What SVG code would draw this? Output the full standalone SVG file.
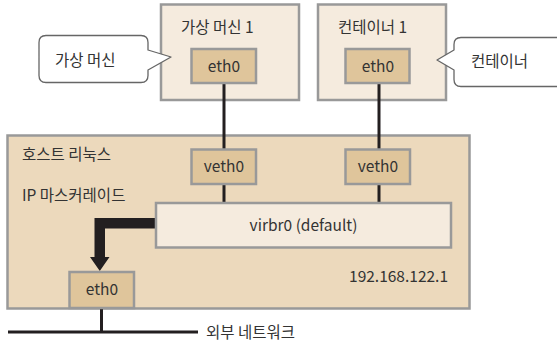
<svg xmlns="http://www.w3.org/2000/svg" width="557" height="341" viewBox="0 0 557 341">
<style>
text{font-family:"Noto Sans CJK KR","Noto Sans",sans-serif;font-size:15.5px;fill:#333}
.c{text-anchor:middle}
.e{text-anchor:end}
.outer{fill:#f5ebde;stroke:#999;stroke-width:2.5}
.host{fill:#ecd9bc;stroke:#999;stroke-width:2.5}
.port{fill:#dfc59b;stroke:#999;stroke-width:2.5}
.br{fill:#f5ebde;stroke:#999;stroke-width:2.5}
.call{fill:#fff;stroke:#666;stroke-width:1.3;stroke-linejoin:round}
.wire{stroke:#231f20;stroke-width:3;fill:none}
</style>
<rect width="557" height="341" fill="#fff"/>
<g id="host">
<rect class="host" x="7.5" y="135.5" width="462" height="173"/>
<text x="22" y="160">호스트 리눅스</text>
<text x="22" y="201">IP 마스커레이드</text>
<text class="e" x="448" y="282">192.168.122.1</text>
</g>
<g id="vm1">
<rect class="outer" x="161" y="4.5" width="138" height="95.5"/>
<text x="181" y="33">가상 머신 1</text>
</g>
<g id="ct1">
<rect class="outer" x="318" y="4.5" width="128" height="95.5"/>
<text x="338" y="33">컨테이너 1</text>
</g>
<g id="connectors">
<line class="wire" x1="224" y1="83" x2="224" y2="203"/>
<line class="wire" x1="379" y1="83" x2="379" y2="203"/>
<line class="wire" x1="101.5" y1="308" x2="101.5" y2="332"/>
<line class="wire" x1="8" y1="332" x2="198" y2="332"/>
<polygon fill="#231f20" points="157,218 94.5,218 94.5,257 90,257 99.8,271 109.5,257 105,257 105,228.5 157,228.5"/>
</g>
<g id="vm1-eth0">
<rect class="port" x="191.5" y="49" width="64.5" height="34"/>
<text class="c" x="224" y="72">eth0</text>
</g>
<g id="ct1-eth0">
<rect class="port" x="345.5" y="49" width="64" height="34"/>
<text class="c" x="378" y="72">eth0</text>
</g>
<g id="veth0-a">
<rect class="port" x="191.5" y="149.5" width="64.5" height="34.5"/>
<text class="c" x="224" y="172">veth0</text>
</g>
<g id="veth0-b">
<rect class="port" x="345.5" y="149.5" width="64.5" height="34.5"/>
<text class="c" x="378" y="172">veth0</text>
</g>
<g id="virbr0">
<rect class="br" x="156" y="203" width="295" height="44.5"/>
<text class="c" x="303.5" y="231">virbr0 (default)</text>
</g>
<g id="host-eth0">
<rect class="port" x="69.5" y="272" width="64.5" height="36"/>
<text class="c" x="102" y="295">eth0</text>
</g>
<g id="callout-vm">
<path class="call" d="M46,35.5 H141 Q148,35.5 148,42.5 V50 L171,57 L148,70 V75.5 Q148,82.5 141,82.5 H46 Q39,82.5 39,75.5 V42.5 Q39,35.5 46,35.5 Z"/>
<text x="55" y="66">가상 머신</text>
</g>
<g id="callout-ct">
<path class="call" d="M565,37.5 H461 Q454,37.5 454,44.5 V50 L437,60 L454,70 V79.5 Q454,86.5 461,86.5 H565"/>
<text x="471" y="67">컨테이너</text>
</g>
<g id="ext-label">
<text x="206" y="338">외부 네트워크</text>
</g>
</svg>
